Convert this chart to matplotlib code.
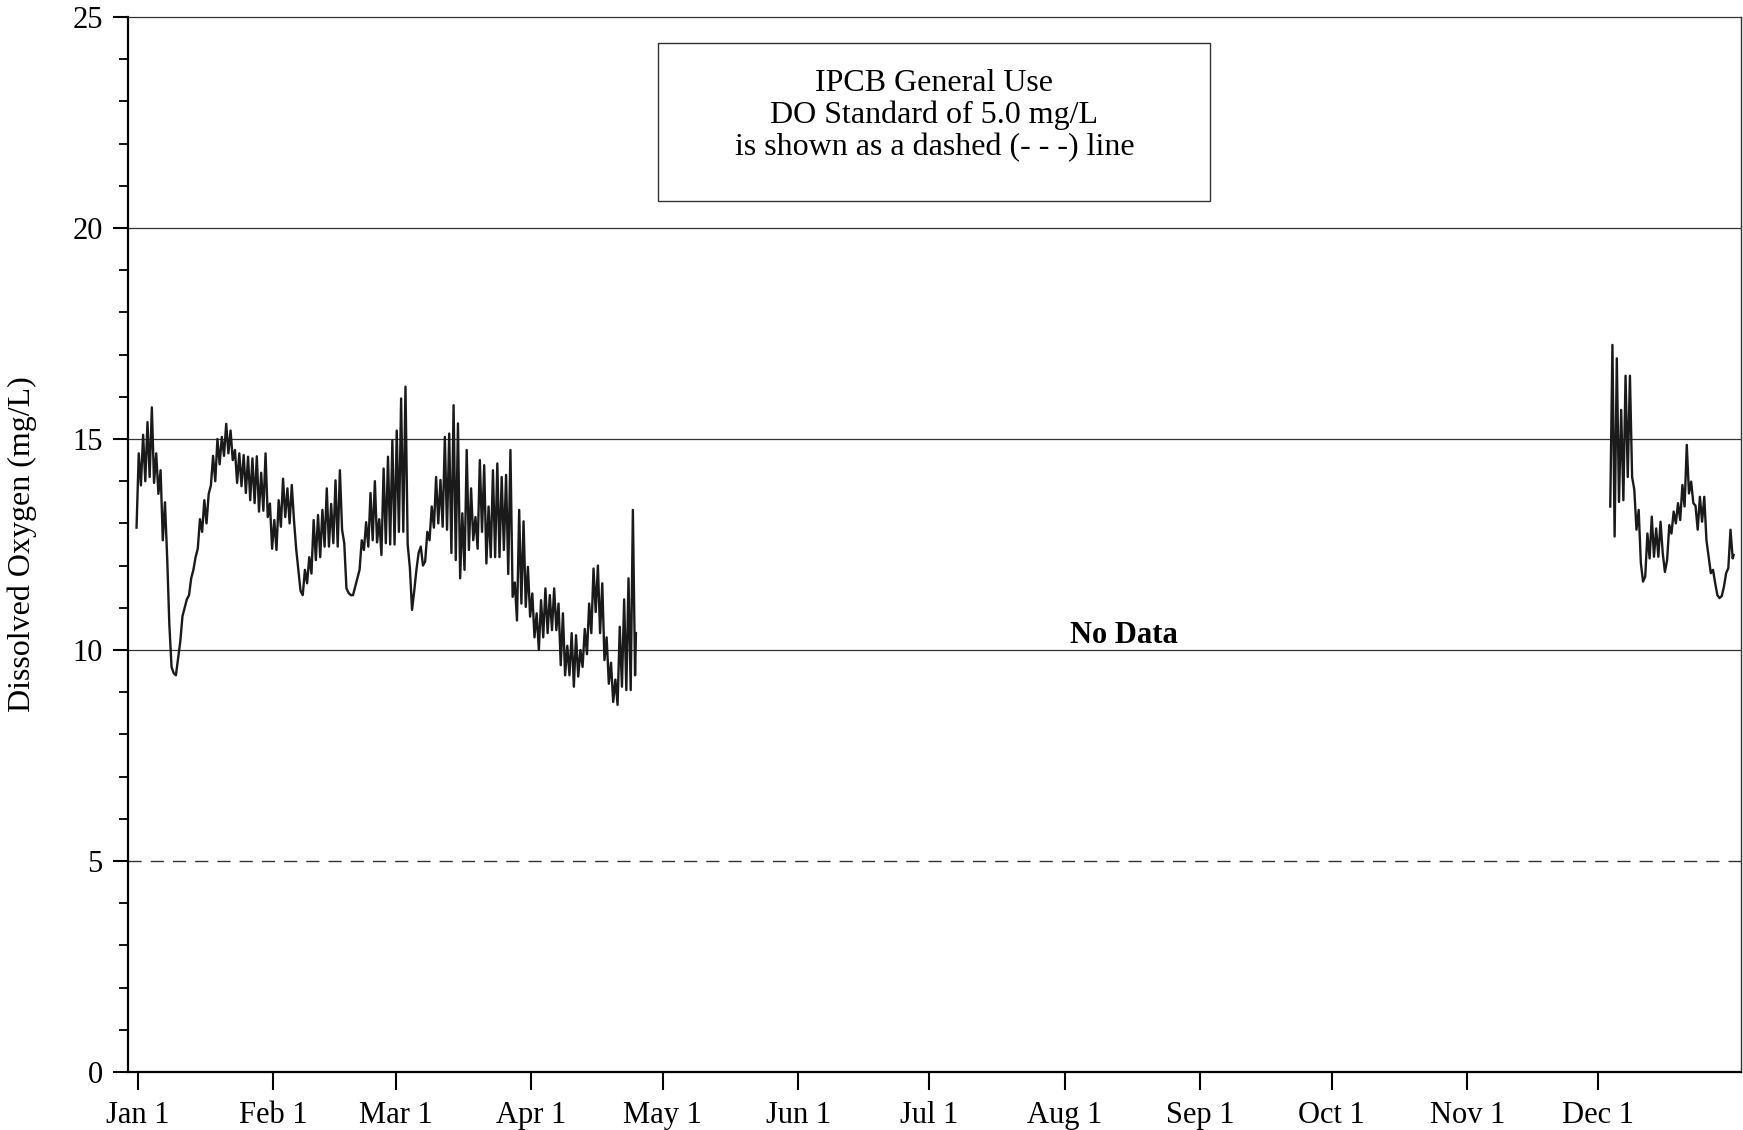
import numpy as np
import matplotlib
matplotlib.use("Agg")
import matplotlib.pyplot as plt
from matplotlib.patches import Rectangle

plt.rcParams['font.family'] = ['Liberation Serif', 'DejaVu Serif']

# ---------------- data ----------------
month_days = [0, 31, 59, 90, 120, 151, 181, 212, 243, 273, 304, 334]
month_labels = ['Jan 1', 'Feb 1', 'Mar 1', 'Apr 1', 'May 1', 'Jun 1',
                'Jul 1', 'Aug 1', 'Sep 1', 'Oct 1', 'Nov 1', 'Dec 1']

# Segment 1: Jan 1 (day 0) .. late April, daily afternoon peak / night trough (mg/L)
seg1_first_day = 0
seg1_start_value = 12.9
seg1_end_value = 10.4
seg1_peak = [14.66, 15.1, 15.4, 15.75, 14.66, 14.26, 13.5, 10.6, 9.45, 9.8,
             10.8, 11.2, 11.7, 12.2, 13.1, 13.55, 13.7, 14.6, 15.0, 15.05,
             15.36, 15.2, 14.74, 14.66, 14.62, 14.58, 14.54, 14.59, 14.2, 14.66,
             13.47, 13.08, 13.55, 14.06, 13.83, 13.91, 12.4, 11.4, 11.9, 12.2,
             13.08, 13.2, 13.32, 13.83, 13.46, 14.02, 14.26, 12.53, 11.35, 11.3,
             11.7, 12.6, 13.03, 13.72, 14.0, 13.1, 14.3, 14.58, 14.97, 15.2,
             15.96, 16.24, 11.95, 11.4, 12.3, 12.0, 12.8, 13.4, 14.1, 14.03,
             15.05, 15.13, 15.8, 15.37, 13.24, 14.74, 13.83, 13.15, 14.5, 14.38,
             13.4, 14.26, 14.42, 14.1, 14.15, 14.74, 11.6, 13.32, 13.05, 11.97,
             11.34, 10.87, 11.18, 11.46, 11.3, 11.46, 11.1, 10.87, 10.1, 10.4,
             10.35, 10.0, 10.5, 11.1, 11.93, 12.0, 11.58, 10.3, 9.7, 9.3,
             10.55, 11.2, 11.7, 13.32]
seg1_trough = [13.9, 14.0, 14.1, 13.96, 13.7, 12.6, 12.2, 9.6, 9.4, 10.2,
               11.0, 11.3, 11.9, 12.4, 12.8, 13.0, 13.9, 14.0, 14.4, 14.6,
               14.66, 14.5, 13.96, 13.88, 13.72, 13.55, 13.48, 13.28, 13.3, 13.15,
               12.4, 12.37, 12.92, 13.15, 13.0, 13.08, 11.9, 11.3, 11.58, 11.81,
               12.13, 12.2, 12.45, 12.45, 12.53, 12.45, 12.85, 11.46, 11.3, 11.5,
               11.9, 12.37, 12.45, 12.6, 12.55, 12.25, 12.53, 12.5, 12.5, 12.8,
               12.8, 12.5, 10.95, 11.9, 12.45, 12.1, 12.6, 12.9, 13.0, 12.92,
               12.85, 12.3, 12.13, 11.7, 11.9, 12.37, 12.6, 12.4, 12.8, 12.05,
               12.2, 12.2, 12.2, 12.37, 11.8, 11.26, 10.7, 11.1, 11.02, 10.79,
               10.3, 10.0, 10.3, 10.4, 10.47, 10.47, 9.64, 9.4, 9.4, 9.13,
               9.37, 9.6, 9.9, 10.4, 10.9, 10.4, 9.76, 9.2, 8.77, 8.7,
               9.13, 9.05, 9.05, 9.4]

# Segment 2: early December .. Dec 31
seg2_first_day = 337
seg2_start_value = 13.4
seg2_end_value = 12.25
seg2_peak = [17.23, 16.91, 15.69, 16.5, 16.5, 13.8, 13.32, 11.62, 12.76, 13.16,
             12.88, 13.04, 11.85, 12.96, 13.28, 13.48, 13.91, 14.86, 13.99, 13.42,
             13.63, 13.63, 12.21, 11.9, 11.3, 11.28, 11.82, 12.85]
seg2_trough = [12.69, 13.51, 13.55, 14.1, 14.1, 12.85, 12.06, 11.74, 12.17, 12.21,
               12.21, 12.3, 12.13, 12.76, 13.0, 13.08, 13.4, 13.71, 13.48, 12.85,
               13.04, 12.6, 11.82, 11.58, 11.23, 11.5, 11.94, 12.17]

do_standard = 5.0
grid_levels = [10, 15, 20]


def build_series(first_day, start_val, peaks, troughs, end_val):
    t = [first_day - 0.3]
    v = [start_val]
    for i, (p, q) in enumerate(zip(peaks, troughs)):
        d = first_day + i
        t += [d + 0.2, d + 0.7]
        v += [p, q]
    t.append(first_day + len(peaks) - 1 + 0.9)
    v.append(end_val)
    return np.array(t), np.array(v)


W, H = 1743, 1130
fig = plt.figure(figsize=(W / 100, H / 100), dpi=100)
ax_l, ax_r, ax_t, ax_b = 127.8, 1741.0, 17.0, 1072.0
ax = fig.add_axes([ax_l / W, 1 - ax_b / H, (ax_r - ax_l) / W, (ax_b - ax_t) / H])

ax.set_xlim(-2.3, 366.6)
ax.set_ylim(0, 25)

for lvl in grid_levels:
    ax.axhline(lvl, color='#333333', lw=0.9, zorder=1)
ax.axhline(do_standard, color='#333333', lw=1.0, linestyle=(0, (9.5, 6.5)), zorder=1)

for args in [(seg1_first_day, seg1_start_value, seg1_peak, seg1_trough, seg1_end_value),
             (seg2_first_day, seg2_start_value, seg2_peak, seg2_trough, seg2_end_value)]:
    t, v = build_series(*args)
    ax.plot(t, v, color='#1a1a1a', lw=1.7, zorder=3)

# spines
for s in ['left', 'bottom']:
    ax.spines[s].set_linewidth(1.6)
ax.spines['top'].set_linewidth(0.9)
ax.spines['top'].set_color('#333333')
ax.spines['right'].set_linewidth(1.0)
ax.spines['right'].set_color('#333333')

ax.set_xticks(month_days)
ax.set_xticklabels(month_labels)
ax.set_yticks(np.arange(0, 26, 5))
ax.set_yticks(np.arange(0, 26, 1), minor=True)
ax.tick_params(axis='x', which='major', direction='out', length=13, width=1.5,
               labelsize=22, pad=8)
ax.tick_params(axis='x', which='minor', length=0)
ax.tick_params(axis='y', which='major', direction='out', length=11, width=1.5,
               labelsize=22, pad=7)
ax.tick_params(axis='y', which='minor', direction='out', length=6.5, width=1.3)

fig.text(22 / W, 1 - 544.5 / H, 'Dissolved Oxygen (mg/L)', rotation=90,
         ha='center', va='center', fontsize=23)

# annotation box
bx0 = (658 - ax_l) / (ax_r - ax_l)
bx1 = (1210 - ax_l) / (ax_r - ax_l)
by0 = (ax_b - 201) / (ax_b - ax_t)
by1 = (ax_b - 43) / (ax_b - ax_t)
ax.add_patch(Rectangle((bx0, by0), bx1 - bx0, by1 - by0, transform=ax.transAxes,
                       fill=False, edgecolor='#333333', lw=1.0, zorder=4))
ax.text(0.5, (ax_b - 115.6) / (ax_b - ax_t),
        'IPCB General Use\nDO Standard of 5.0 mg/L\nis shown as a dashed (- - -) line',
        transform=ax.transAxes, ha='center', va='center', fontsize=23,
        linespacing=1.11, zorder=5)

ax.text(225.5, 10.17, 'No Data', ha='center', va='baseline', fontsize=22,
        fontweight='bold', zorder=5)

fig.savefig('out.png', dpi=100)
